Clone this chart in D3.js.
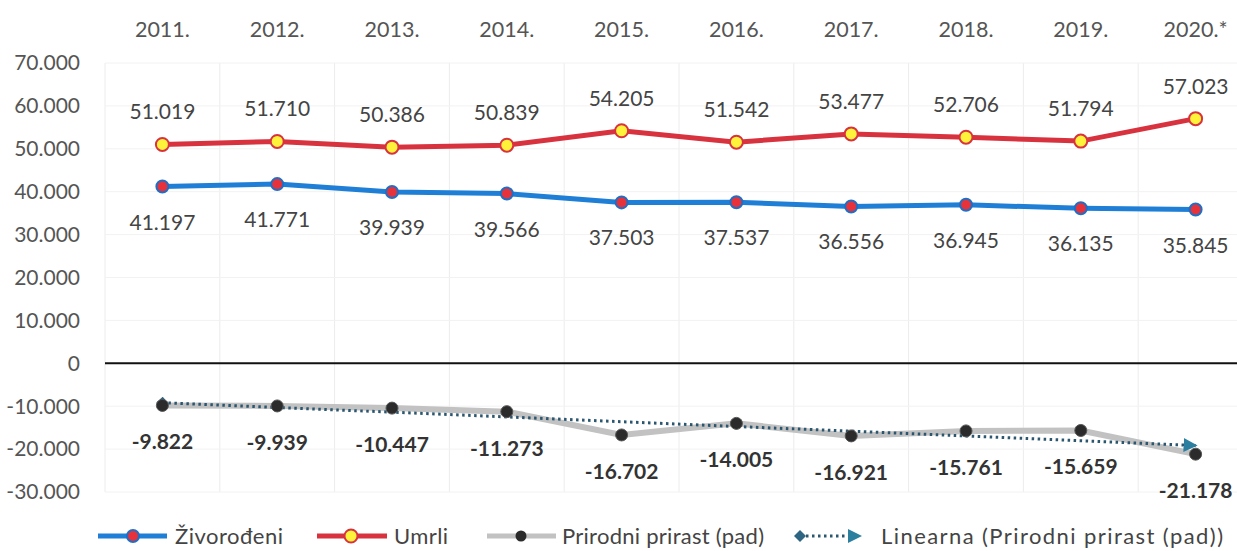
<!DOCTYPE html>
<html>
<head>
<meta charset="utf-8">
<script src="https://cdn.jsdelivr.net/npm/d3@7"></script>
<style>
  body { margin: 0; background: #fff; }
  svg text { font-family: Lato, "Open Sans", sans-serif; }
</style>
</head>
<body>
<svg id="chart" width="1237" height="551"></svg>
<script>
// chart data
var years = ["2011.", "2012.", "2013.", "2014.", "2015.", "2016.", "2017.", "2018.", "2019.", "2020.*"];
var zivorodeni = [41197, 41771, 39939, 39566, 37503, 37537, 36556, 36945, 36135, 35845];
var umrli = [51019, 51710, 50386, 50839, 54205, 51542, 53477, 52706, 51794, 57023];
var prirast = [-9822, -9939, -10447, -11273, -16702, -14005, -16921, -15761, -15659, -21178];
var yTicks = [70000, 60000, 50000, 40000, 30000, 20000, 10000, 0, -10000, -20000, -30000];

var fmt = function(v){
	// 51019 -> 51.019
	var s = d3.format(",")(v).replace(/,/g, ".");
	return s.replace("−", "-");
};

var svg = d3.select("#chart");

var x = d3.scalePoint()
	.domain(years)
	.range([105, 1253])
	.padding(0.5);

var y = d3.scaleLinear()
	.domain([-30000, 70000])
	.range([492, 63]);

var step = x.step();

// markers for the trend line
var defs = svg.append("defs");
defs.append("marker")
	.attr("id", "diamond")
	.attr("viewBox", "-6 -6 12 12")
	.attr("markerWidth", 12)
	.attr("markerHeight", 12)
	.attr("markerUnits", "userSpaceOnUse")
	.attr("orient", "auto")
	.append("path")
	.attr("d", "M-6,0L0,-6L6,0L0,6Z")
	.attr("fill", "#2d6583");
defs.append("marker")
	.attr("id", "arrow")
	.attr("viewBox", "-12 -7 14 14")
	.attr("refX", 0)
	.attr("markerWidth", 14)
	.attr("markerHeight", 14)
	.attr("markerUnits", "userSpaceOnUse")
	.attr("orient", "auto")
	.append("path")
	.attr("d", "M-12,-7L2,0L-12,7Z")
	.attr("fill", "#2d7fa0");

// gridlines
var grid = svg.append("g").attr("class", "grid");
grid.selectAll(".vgrid")
	.data(d3.range(years.length))
	.join("line")
	.attr("x1", i => x(years[i]) - step / 2)
	.attr("x2", i => x(years[i]) - step / 2)
	.attr("y1", y(70000))
	.attr("y2", y(-30000))
	.attr("stroke", "#ececec")
	.attr("stroke-width", 1);
grid.selectAll(".hgrid")
	.data(yTicks.filter(d => d !== 0))
	.join("line")
	.attr("x1", x(years[0]) - step / 2)
	.attr("x2", 1237)
	.attr("y1", d => y(d))
	.attr("y2", d => y(d))
	.attr("stroke", "#f2f2f2")
	.attr("stroke-width", 1);

// y axis labels
svg.append("g")
	.selectAll("text")
	.data(yTicks)
	.join("text")
	.attr("x", 80)
	.attr("y", d => y(d))
	.attr("dy", "0.35em")
	.attr("text-anchor", "end")
	.attr("fill", "#555")
	.style("font-size", "21px")
	.text(d => d === 0 ? "0" : fmt(d));

// year labels on top
svg.append("g")
	.selectAll("text")
	.data(years)
	.join("text")
	.attr("x", d => x(d))
	.attr("y", 29)
	.attr("dy", "0.35em")
	.attr("text-anchor", "middle")
	.attr("fill", "#555")
	.style("font-size", "21.5px")
	.text(d => d);

// zero line
svg.append("line")
	.attr("x1", x(years[0]) - step / 2)
	.attr("x2", 1237)
	.attr("y1", y(0))
	.attr("y2", y(0))
	.attr("stroke", "#111")
	.attr("stroke-width", 2);

var line = d3.line()
	.x((d, i) => x(years[i]))
	.y(d => y(d));

// Prirodni prirast (gray)
svg.append("path")
	.datum(prirast)
	.attr("d", line)
	.attr("fill", "none")
	.attr("stroke", "#c2c2c2")
	.attr("stroke-width", 6);

// linear trend of prirast
var xi = d3.range(1, prirast.length + 1);
var mx = d3.mean(xi), my = d3.mean(prirast);
var sxy = d3.sum(xi, (v, i) => (v - mx) * (prirast[i] - my));
var sxx = d3.sum(xi, v => (v - mx) * (v - mx));
var slope = sxy / sxx;
var icpt = my - slope * mx;
var trend = xi.map(v => icpt + slope * v);

svg.append("path")
	.datum(trend)
	.attr("d", line)
	.attr("fill", "none")
	.attr("stroke", "#2a5670")
	.attr("stroke-width", 3)
	.attr("stroke-dasharray", "2.5,3.5")
	.attr("marker-start", "url(#diamond)")
	.attr("marker-end", "url(#arrow)");

svg.append("g")
	.selectAll("circle")
	.data(prirast)
	.join("circle")
	.attr("cx", (d, i) => x(years[i]))
	.attr("cy", d => y(d))
	.attr("r", 6)
	.attr("fill", "#2b2b2b")
	.attr("stroke", "#555")
	.attr("stroke-width", 1);

// Živorođeni (blue)
svg.append("path")
	.datum(zivorodeni)
	.attr("d", line)
	.attr("fill", "none")
	.attr("stroke", "#1f7fd6")
	.attr("stroke-width", 5);
svg.append("g")
	.selectAll("circle")
	.data(zivorodeni)
	.join("circle")
	.attr("cx", (d, i) => x(years[i]))
	.attr("cy", d => y(d))
	.attr("r", 6)
	.attr("fill", "#e5323b")
	.attr("stroke", "#1f6fc4")
	.attr("stroke-width", 2);

// Umrli (red)
svg.append("path")
	.datum(umrli)
	.attr("d", line)
	.attr("fill", "none")
	.attr("stroke", "#d8323e")
	.attr("stroke-width", 5);
svg.append("g")
	.selectAll("circle")
	.data(umrli)
	.join("circle")
	.attr("cx", (d, i) => x(years[i]))
	.attr("cy", d => y(d))
	.attr("r", 6.5)
	.attr("fill", "#fff23a")
	.attr("stroke", "#d8323e")
	.attr("stroke-width", 2);

// data labels
var labels = svg.append("g").style("font-size", "21px");
labels.selectAll(".lab-u")
	.data(umrli)
	.join("text")
	.attr("x", (d, i) => x(years[i]))
	.attr("y", d => y(d) - 25)
	.attr("text-anchor", "middle")
	.attr("fill", "#444")
	.text(d => fmt(d));
labels.selectAll(".lab-z")
	.data(zivorodeni)
	.join("text")
	.attr("class", "lab-z")
	.attr("x", (d, i) => x(years[i]))
	.attr("y", d => y(d) + 43)
	.attr("text-anchor", "middle")
	.attr("fill", "#444")
	.text(d => fmt(d));
labels.selectAll(".lab-p")
	.data(prirast)
	.join("text")
	.attr("class", "lab-p")
	.attr("x", (d, i) => x(years[i]))
	.attr("y", d => y(d) + 44)
	.attr("text-anchor", "middle")
	.attr("fill", "#333")
	.style("font-weight", "bold")
	.text(d => fmt(d));

// legend
var legend = svg.append("g").attr("transform", "translate(0,536)");
var ly = 0;

function legendLine(x0, x1, color, width){
	legend.append("line")
		.attr("x1", x0).attr("x2", x1)
		.attr("y1", ly).attr("y2", ly)
		.attr("stroke", color)
		.attr("stroke-width", width);
}
function legendText(x0, txt){
	return legend.append("text")
		.attr("x", x0)
		.attr("y", ly)
		.attr("dy", "0.35em")
		.attr("fill", "#444")
		.style("font-size", "22px")
		.text(txt);
}

legendLine(98, 167, "#1f7fd6", 5);
legend.append("circle").attr("cx", 133).attr("cy", ly).attr("r", 6)
	.attr("fill", "#e5323b").attr("stroke", "#1f6fc4").attr("stroke-width", 2);
legendText(175, "Živorođeni").attr("textLength", 108);

legendLine(317, 387, "#d8323e", 5);
legend.append("circle").attr("cx", 351).attr("cy", ly).attr("r", 6.5)
	.attr("fill", "#fff23a").attr("stroke", "#d8323e").attr("stroke-width", 2);
legendText(394, "Umrli").attr("textLength", 54);

legendLine(487, 556, "#c2c2c2", 5);
legend.append("circle").attr("cx", 521).attr("cy", ly).attr("r", 5.5)
	.attr("fill", "#2b2b2b");
legendText(562, "Prirodni prirast (pad)").attr("textLength", 202);

legend.append("line")
	.attr("x1", 800).attr("x2", 860)
	.attr("y1", ly).attr("y2", ly)
	.attr("stroke", "#2a5670")
	.attr("stroke-width", 3)
	.attr("stroke-dasharray", "2.5,3.5")
	.attr("marker-start", "url(#diamond)")
	.attr("marker-end", "url(#arrow)");
legendText(881, "Linearna (Prirodni prirast (pad))")
	.attr("textLength", 342);
</script>
</body>
</html>
